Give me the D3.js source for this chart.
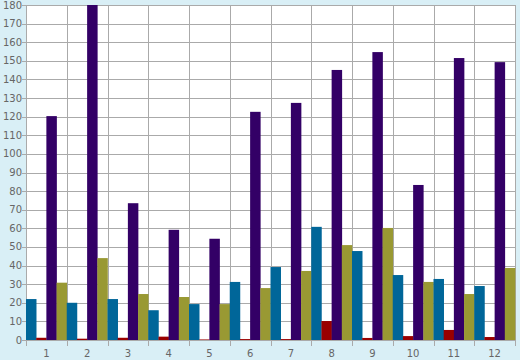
<!DOCTYPE html>
<html>
<head>
<meta charset="utf-8">
<script src="https://cdn.jsdelivr.net/npm/d3@7"></script>
<style>
  body { margin: 0; background: #d9eff6; }
  text { font-family: "DejaVu Sans", Verdana, sans-serif; font-size: 10px; fill: #666; }
</style>
</head>
<body>
<div id="chart"></div>
<script>
var categories = ["1", "2", "3", "4", "5", "6", "7", "8", "9", "10", "11", "12"];
var seriesNames = ["blue", "red", "purple", "olive"];
var blueValues = [22, 20, 22, 16, 19.3, 31.2, 39.2, 60.8, 47.8, 34.9, 32.8, 29];
var redValues = [1.2, 0.7, 1.2, 1.8, 0.3, 0.5, 0.5, 10.2, 1.1, 2.1, 5.4, 1.6];
var purpleValues = [120.3, 180, 73.5, 59.2, 54.4, 122.6, 127.4, 145.1, 154.7, 83.3, 151.5, 149.3];
var oliveValues = [30.8, 44, 24.7, 23.1, 19.3, 27.9, 37.1, 51, 60.2, 31.2, 24.7, 38.7];
var yTicks = d3.range(0, 181, 10);

var colors = ["#006699", "#990000", "#330066", "#999933"];
var allSeries = [blueValues, redValues, purpleValues, oliveValues];

var width = 520, height = 360;
var plotLeft = 26, plotRight = 515, plotTop = 5, plotBottom = 340;

var svg = d3.select("#chart").append("svg")
    .attr("width", width)
    .attr("height", height)
    .style("display", "block");

var x = d3.scaleBand().domain(categories).range([plotLeft, plotRight]).padding(0);
var xs = d3.scaleBand().domain(seriesNames).range([0, x.bandwidth()]).padding(0);
var y = d3.scaleLinear().domain([0, 180]).range([plotBottom, plotTop]);

svg.append("rect")
    .attr("x", plotLeft).attr("y", plotTop)
    .attr("width", plotRight - plotLeft).attr("height", plotBottom - plotTop)
    .style("fill", "#fff");

// horizontal grid + y ticks
svg.append("g").selectAll("line")
    .data(yTicks)
    .enter().append("line")
    .attr("x1", plotLeft - 4).attr("x2", plotRight)
    .attr("y1", function (d) { return Math.round(y(d)) + 0.5; })
    .attr("y2", function (d) { return Math.round(y(d)) + 0.5; })
    .style("stroke", "#aaa");

// vertical grid at category boundaries, ticks below
var bounds = categories.map(function (c) { return x(c); }).concat([plotRight]);
svg.append("g").selectAll("line")
    .data(bounds)
    .enter().append("line")
    .attr("x1", function (d) { return Math.round(d) + 0.5; })
    .attr("x2", function (d) { return Math.round(d) + 0.5; })
    .attr("y1", plotTop).attr("y2", plotBottom + 6)
    .style("stroke", "#aaa");

var groups = svg.append("g").selectAll("g")
    .data(categories)
    .enter().append("g")
    .attr("transform", function (d) { return "translate(" + x(d) + ",0)"; });

groups.selectAll("rect")
    .data(function (d, i) {
        return seriesNames.map(function (s, j) { return { s: s, v: allSeries[j][i], c: colors[j] }; });
    })
    .enter().append("rect")
    .attr("x", function (d) { return xs(d.s); })
    .attr("width", xs.bandwidth() + 0.3)
    .attr("y", function (d) { return y(d.v); })
    .attr("height", function (d) { return y(0) - y(d.v); })
    .style("fill", function (d) { return d.c; });

// y labels
svg.append("g").selectAll("text")
    .data(yTicks)
    .enter().append("text")
    .attr("x", plotLeft - 4)
    .attr("y", function (d) { return y(d); })
    .attr("dy", "0.35em")
    .style("text-anchor", "end")
    .text(function (d) { return d; });

// x labels
svg.append("g").selectAll("text")
    .data(categories)
    .enter().append("text")
    .attr("x", function (d) { return x(d) + x.bandwidth() / 2; })
    .attr("y", 353)
    .attr("dy", "0.35em")
    .style("text-anchor", "middle")
    .text(function (d) { return d; });
</script>
</body>
</html>
